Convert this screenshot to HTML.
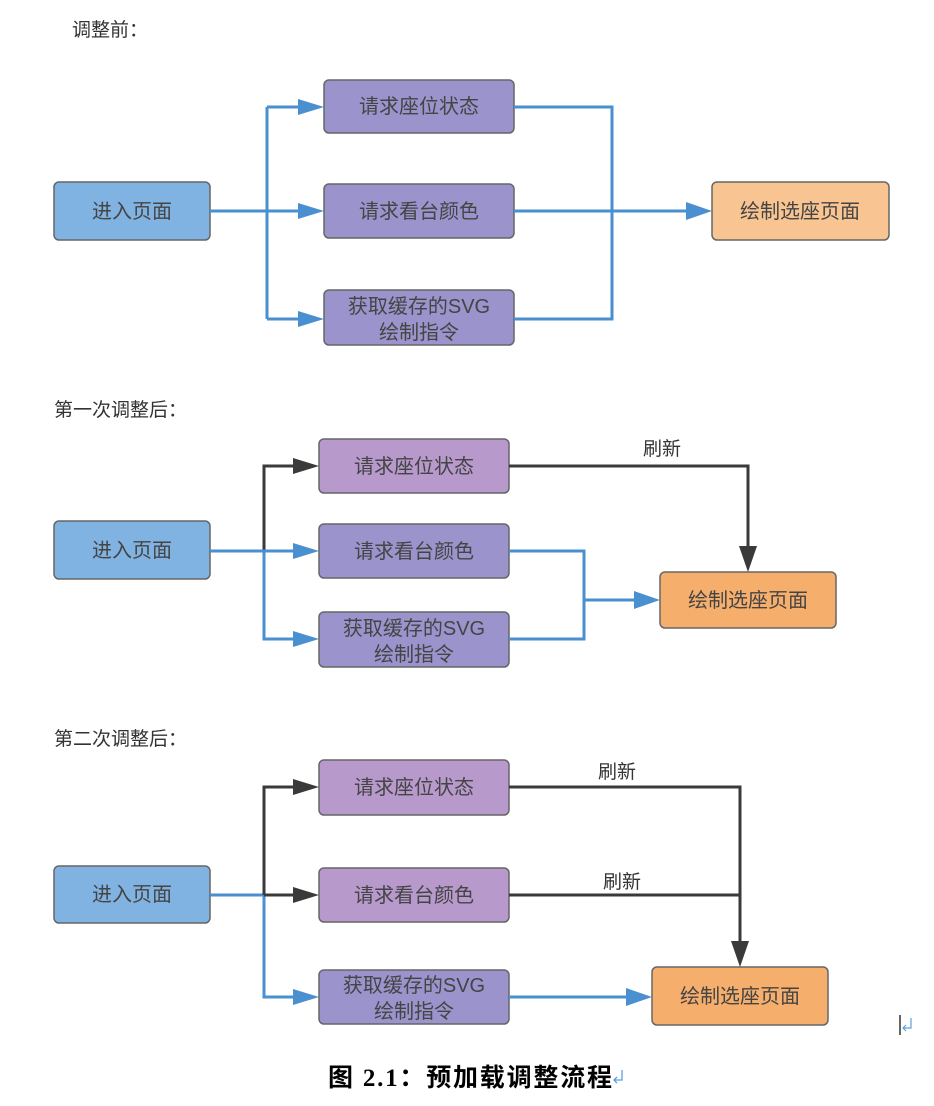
<!DOCTYPE html>
<html><head><meta charset="utf-8"><style>
html,body{margin:0;padding:0;background:#fff;width:934px;height:1106px;overflow:hidden}
text{font-family:"Liberation Sans","Noto Sans CJK SC",sans-serif}
</style></head><body>
<svg width="934" height="1106" xmlns="http://www.w3.org/2000/svg">
<style>
.bl{stroke:#4a8fd0;stroke-width:3;fill:none}
.dk{stroke:#3a3a3a;stroke-width:3;fill:none}
.t{font-size:20px;fill:#444;text-anchor:middle}
.h{font-size:19px;fill:#333}
.n{stroke:#666;stroke-width:1.5}
</style>

<!-- Section 1 -->
<text class="h" x="72" y="36">调整前：</text>
<rect class="n" x="54" y="182" width="156" height="58" rx="5" fill="#80b3e1"/>
<text class="t" x="132" y="218">进入页面</text>
<rect class="n" x="324" y="80" width="190" height="53" rx="5" fill="#9b93cc"/>
<text class="t" x="419" y="113">请求座位状态</text>
<rect class="n" x="324" y="184" width="190" height="54" rx="5" fill="#9b93cc"/>
<text class="t" x="419" y="218">请求看台颜色</text>
<rect class="n" x="324" y="290" width="190" height="55" rx="5" fill="#9b93cc"/>
<text class="t" x="419" y="313">获取缓存的SVG</text>
<text class="t" x="419" y="339">绘制指令</text>
<rect class="n" x="712" y="182" width="177" height="58" rx="5" fill="#f8c592"/>
<text class="t" x="800" y="218">绘制选座页面</text>
<path class="bl" d="M210,211 H300 M267,107 V319 M267,107 H300 M267,319 H300"/>
<path d="M298,99 L324,107 L298,115z M298,203 L324,211 L298,219z M298,311 L324,319 L298,327z" fill="#4a8fd0"/>
<path class="bl" d="M514,107 H612 V319 H514 M514,211 H688"/>
<path d="M686,202 L712,211 L686,220z" fill="#4a8fd0"/>

<!-- Section 2 -->
<text class="h" x="54" y="416">第一次调整后：</text>
<rect class="n" x="54" y="521" width="156" height="58" rx="5" fill="#80b3e1"/>
<text class="t" x="132" y="557">进入页面</text>
<rect class="n" x="319" y="439" width="190" height="54" rx="5" fill="#b899cc"/>
<text class="t" x="414" y="473">请求座位状态</text>
<rect class="n" x="319" y="524" width="190" height="54" rx="5" fill="#9b93cc"/>
<text class="t" x="414" y="558">请求看台颜色</text>
<rect class="n" x="319" y="612" width="190" height="55" rx="5" fill="#9b93cc"/>
<text class="t" x="414" y="635">获取缓存的SVG</text>
<text class="t" x="414" y="661">绘制指令</text>
<rect class="n" x="660" y="572" width="176" height="56" rx="5" fill="#f6ae6c"/>
<text class="t" x="748" y="607">绘制选座页面</text>
<path class="dk" d="M264,551 V466 H295"/>
<path d="M293,458 L319,466 L293,474z" fill="#3a3a3a"/>
<path class="bl" d="M210,551 H295 M264,551 V639 H295"/>
<path d="M293,543 L319,551 L293,559z M293,631 L319,639 L293,647z" fill="#4a8fd0"/>
<path class="dk" d="M509,466 H748 V548"/>
<path d="M739,546 L748,572 L757,546z" fill="#3a3a3a"/>
<text class="h" x="643" y="455">刷新</text>
<path class="bl" d="M509,551 H584 V639 H509 M584,600 H636"/>
<path d="M634,591 L660,600 L634,609z" fill="#4a8fd0"/>

<!-- Section 3 -->
<text class="h" x="54" y="745">第二次调整后：</text>
<rect class="n" x="54" y="866" width="156" height="57" rx="5" fill="#80b3e1"/>
<text class="t" x="132" y="901">进入页面</text>
<rect class="n" x="319" y="760" width="190" height="55" rx="5" fill="#b899cc"/>
<text class="t" x="414" y="794">请求座位状态</text>
<rect class="n" x="319" y="868" width="190" height="54" rx="5" fill="#b899cc"/>
<text class="t" x="414" y="902">请求看台颜色</text>
<rect class="n" x="319" y="970" width="190" height="54" rx="5" fill="#9b93cc"/>
<text class="t" x="414" y="992">获取缓存的SVG</text>
<text class="t" x="414" y="1018">绘制指令</text>
<rect class="n" x="652" y="967" width="176" height="58" rx="5" fill="#f6ae6c"/>
<text class="t" x="740" y="1003">绘制选座页面</text>
<path class="bl" d="M210,895 H264 V997 H295"/>
<path d="M293,989 L319,997 L293,1005z" fill="#4a8fd0"/>
<path class="dk" d="M264,895 V787 H295 M264,895 H295"/>
<path d="M293,779 L319,787 L293,795z M293,887 L319,895 L293,903z" fill="#3a3a3a"/>
<path class="dk" d="M509,787 H740 V943 M509,895 H740"/>
<path d="M731,941 L740,967 L749,941z" fill="#3a3a3a"/>
<text class="h" x="598" y="778">刷新</text>
<text class="h" x="603" y="888">刷新</text>
<path class="bl" d="M509,997 H628"/>
<path d="M626,988 L652,997 L626,1006z" fill="#4a8fd0"/>

<!-- cursor -->
<path d="M900,1015 V1035" stroke="#333" stroke-width="1.5"/>
<path d="M911,1018 V1028 H903 M906,1025 L903,1028 L906,1031" stroke="#5aa0e0" stroke-width="1.2" fill="none"/>

<!-- caption -->
<text x="328" y="1086" style="font-family:'Liberation Serif','Noto Sans CJK SC',sans-serif;font-size:25px;font-weight:bold;fill:#000" textLength="284">图 2.1：预加载调整流程</text>
<path d="M622,1070 V1080 H614 M617,1077 L614,1080 L617,1083" stroke="#5aa0e0" stroke-width="1.3" fill="none"/>
</svg>
</body></html>
